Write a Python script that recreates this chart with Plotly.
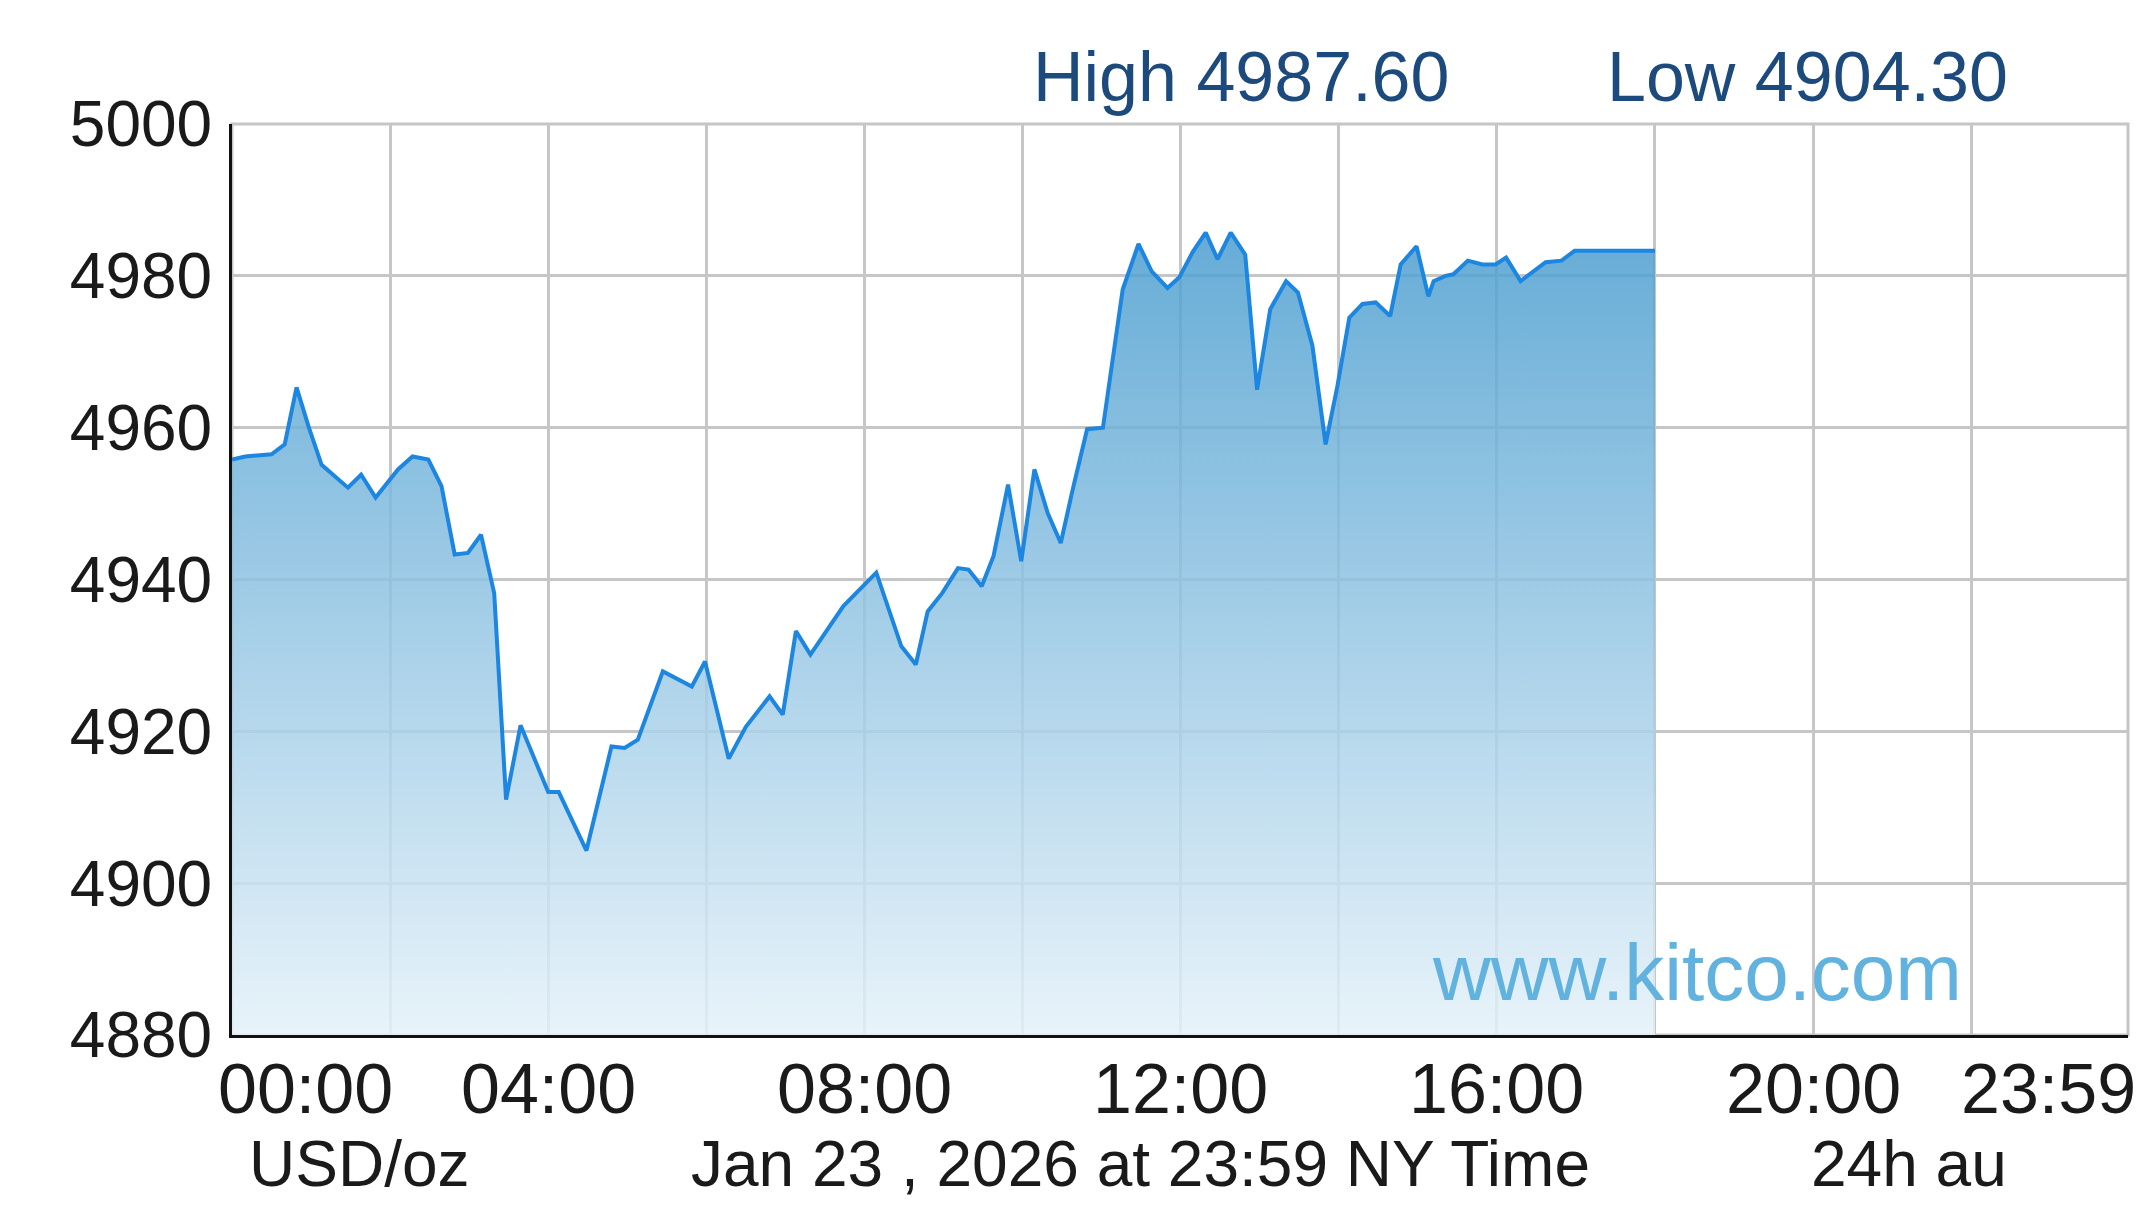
import plotly.graph_objects as go

DAY = "2026-01-23"

times = ["00:00", "00:10", "00:30", "00:40", "00:49", "00:58", "01:08", "01:28", "01:38", "01:49",
         "02:06", "02:17", "02:29", "02:39", "02:49", "02:59", "03:09", "03:19", "03:28", "03:39",
         "04:00", "04:08", "04:29", "04:48", "04:58", "05:08", "05:27", "05:49", "05:59", "06:17",
         "06:30", "06:48", "06:58", "07:08", "07:19", "07:44", "08:09", "08:28", "08:39", "08:48",
         "08:59", "09:11", "09:19", "09:29", "09:38", "09:49", "09:59", "10:09", "10:19", "10:29",
         "10:38", "10:49", "11:01", "11:16", "11:28", "11:38", "11:50", "11:59", "12:09", "12:19",
         "12:28", "12:38", "12:49", "12:58", "13:08", "13:20", "13:29", "13:40", "13:50", "13:59",
         "14:08", "14:18", "14:28", "14:39", "14:47", "14:59", "15:08", "15:12", "15:21", "15:27",
         "15:38", "15:49", "15:59", "16:07", "16:18", "16:26", "16:37", "16:49", "16:59", "18:00"]

prices = [4955.8, 4956.2, 4956.5, 4957.8, 4965.3, 4960.2, 4955.1, 4952.1, 4953.8, 4950.8,
          4954.5, 4956.2, 4955.8, 4952.3, 4943.3, 4943.5, 4945.9, 4938.2, 4911.0, 4920.8,
          4912.0, 4912.0, 4904.3, 4918.0, 4917.8, 4918.9, 4927.9, 4925.9, 4929.2, 4916.4,
          4920.6, 4924.6, 4922.2, 4933.2, 4930.1, 4936.5, 4940.9, 4931.2, 4928.8, 4935.8,
          4938.2, 4941.5, 4941.3, 4939.1, 4943.1, 4952.5, 4942.4, 4954.5, 4948.8, 4944.8,
          4951.8, 4959.8, 4960.0, 4978.2, 4984.2, 4980.6, 4978.4, 4979.8, 4983.1, 4985.7,
          4982.2, 4985.7, 4982.8, 4965.0, 4975.6, 4979.3, 4977.8, 4970.8, 4957.8, 4965.5,
          4974.5, 4976.3, 4976.5, 4974.7, 4981.5, 4983.9, 4977.3, 4979.3, 4980.0, 4980.2,
          4982.0, 4981.5, 4981.5, 4982.4, 4979.3, 4980.4, 4981.8, 4982.0, 4983.3, 4983.3]

y_ticks = [4880, 4900, 4920, 4940, 4960, 4980, 5000]
x_tick_times = ["00:00", "04:00", "08:00", "12:00", "16:00", "20:00", "23:59"]
high_text = "High 4987.60"
low_text = "Low 4904.30"
footer_left = "USD/oz"
footer_mid = "Jan 23 , 2026 at 23:59 NY Time"
footer_right = "24h au"
watermark = "www.kitco.com"

FONT = "Liberation Sans, Arial, sans-serif"

x = [f"{DAY} {t}" for t in times]

fig = go.Figure()
fig.add_trace(go.Scatter(
    x=x, y=prices, mode="lines",
    line=dict(color="#1c86e0", width=4),
    fill="tozeroy",
    fillgradient=dict(
        type="vertical",
        colorscale=[[0, "rgba(228,241,249,0.85)"], [1, "rgba(74,157,207,0.85)"]],
        start=4880, stop=4986,
    ),
    hoverinfo="skip",
    showlegend=False,
))

# page body has an 8px default margin, so the figure is sized to fit inside the window
fig.update_layout(
    width=2134, height=1214,
    margin=dict(l=224, r=14, t=116, b=187),
    paper_bgcolor="white", plot_bgcolor="white",
    font=dict(family=FONT, color="#1a1a1a"),
    showlegend=False,
)

fig.update_xaxes(
    type="date",
    range=[f"{DAY} 00:00", f"{DAY} 23:59"],
    tick0=f"{DAY} 00:00", dtick=2 * 3600 * 1000,
    showgrid=True, gridcolor="#c6c6c6", gridwidth=3,
    showticklabels=False, ticks="",
    showline=True, linecolor="#111111", linewidth=3,
    zeroline=False, fixedrange=True,
)
fig.update_yaxes(
    range=[4880, 5000],
    tickvals=y_ticks, ticktext=[str(v) for v in y_ticks],
    tickfont=dict(size=64, family=FONT, color="#1a1a1a"),
    ticks="", ticklabelstandoff=4,
    showgrid=True, gridcolor="#c6c6c6", gridwidth=3,
    showline=True, linecolor="#111111", linewidth=3,
    zeroline=False, fixedrange=True,
)

# outer frame (top/right in grid grey)
fig.add_shape(type="rect", xref="paper", yref="paper", x0=0, x1=1, y0=0, y1=1,
              line=dict(color="#c6c6c6", width=3), layer="below")

# x tick labels
for i, t in enumerate(x_tick_times):
    if i == 0:
        anchor, shift = "left", -16
    elif i == len(x_tick_times) - 1:
        anchor, shift = "right", 10
    else:
        anchor, shift = "center", 0
    fig.add_annotation(x=f"{DAY} {t}", xref="x", y=-0.059, yref="paper",
                       text=t, showarrow=False, xanchor=anchor, yanchor="middle",
                       xshift=shift, font=dict(size=70, family=FONT, color="#1a1a1a"))

# footer
for txt, px in [(footer_left, 0.0675), (footer_mid, 0.479), (footer_right, 0.8845)]:
    fig.add_annotation(x=px, xref="paper", y=-0.142, yref="paper", text=txt,
                       showarrow=False, xanchor="center", yanchor="middle",
                       font=dict(size=64, family=FONT, color="#1a1a1a"))

# header
for txt, px in [(high_text, 0.532), (low_text, 0.831)]:
    fig.add_annotation(x=px, xref="paper", y=1.052, yref="paper", text=txt,
                       showarrow=False, xanchor="center", yanchor="middle",
                       font=dict(size=70, family=FONT, color="#1d4a7c"))

# watermark
fig.add_annotation(x=0.7727, xref="paper", y=0.069, yref="paper", text=watermark,
                   showarrow=False, xanchor="center", yanchor="middle",
                   font=dict(size=80, family=FONT, color="#62b2df"))

fig.write_html("out.html")
